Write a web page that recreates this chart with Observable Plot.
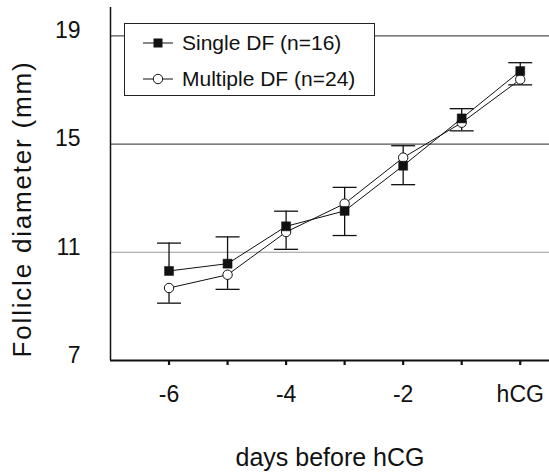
<!DOCTYPE html>
<html>
<head>
<meta charset="utf-8">
<script src="https://cdn.jsdelivr.net/npm/d3@7"></script>
<script src="https://cdn.jsdelivr.net/npm/@observablehq/plot@0.6"></script>
<style>
  body { margin: 0; background: #fff; }
  #wrap { position: relative; width: 549px; height: 473px; font-family: "Liberation Sans", Arial, sans-serif; }
  #legend { position: absolute; left: 124px; top: 23px; width: 249px; height: 71px; background: #fff; border: 1px solid #222; }
  .row { position: absolute; left: 0; height: 30px; display: flex; align-items: center; font-size: 21px; color: #111; }
  .row svg { margin-left: 18px; margin-right: 9px; }
  .ytitle text { letter-spacing: 1.8px; }
</style>
</head>
<body>
<div id="wrap"></div>
<script>
// ---- data ----
const days = [-6, -5, -4, -3, -2, -1, 0];
const singleMean   = [10.31, 10.58, 11.96, 12.53, 14.20, 15.95, 17.70];
const multipleMean = [9.68, 10.17, 11.75, 12.80, 14.50, 15.79, 17.39];
const errUpper     = [11.34, 11.57, 12.52, 13.40, 14.94, 16.31, 18.01];
const errLower     = [9.12, 9.63, 11.11, 11.62, 13.50, 15.49, 17.19];
const seriesNames  = ["Single DF (n=16)", "Multiple DF (n=24)"];
const xTickValues  = [-6, -5, -4, -3, -2, -1, 0];
const xTickLabels  = ["-6", "", "-4", "", "-2", "", "hCG"];
const yTickValues  = [7, 11, 15, 19];
const gridValues   = [11, 15, 19];
const xTitle = "days before hCG";
const yTitle = "Follicle diameter (mm)";
const xDomain = [-7, 0.5];
const yDomain = [7, 20.05];

const single = days.map((d, i) => ({day: d, value: singleMean[i]}));
const multiple = days.map((d, i) => ({day: d, value: multipleMean[i]}));
const bars = days.map((d, i) => ({
  day: d,
  hi: Math.max(singleMean[i], multipleMean[i]),
  lo: Math.min(singleMean[i], multipleMean[i]),
  up: errUpper[i],
  down: errLower[i]
}));

const capSymbol = { draw(ctx) { ctx.moveTo(-12, 0); ctx.lineTo(12, 0); } };
const squareSymbol = { draw(ctx) { ctx.rect(-4.5, -4.5, 9, 9); } };

const chart = Plot.plot({
  width: 549,
  height: 473,
  marginLeft: 110,
  marginRight: 0,
  marginTop: 7,
  marginBottom: 113,
  style: { fontFamily: "Liberation Sans, Arial, sans-serif", background: "#fff", color: "#111", fontSize: "23px" },
  x: { domain: xDomain },
  y: { domain: yDomain },
  marks: [
    Plot.ruleY(gridValues, { stroke: d => d === 11 ? "#999" : "#555", strokeWidth: 1.1 }),
    Plot.axisY({ ticks: yTickValues, tickSize: 0, tickPadding: 30, label: null, dy: -5 }),
    Plot.axisX({ ticks: xTickValues, tickSize: 5, tickPadding: 20, strokeWidth: 2.2,
      tickFormat: d => xTickLabels[xTickValues.indexOf(d)], label: null }),
    Plot.text([xTitle], { text: d => d, frameAnchor: "bottom", lineAnchor: "middle", textAnchor: "middle", dy: 97, fontSize: 25, fill: "#111" }),
    Plot.text([yTitle], { text: d => d, frameAnchor: "left", lineAnchor: "middle", textAnchor: "middle", rotate: -90, dx: -88, dy: 25, fontSize: 26, fill: "#111", className: "ytitle" }),
    Plot.ruleX([xDomain[0]], { stroke: "#111", strokeWidth: 1.5 }),
    Plot.ruleY([yDomain[0]], { stroke: "#111", strokeWidth: 2 }),
    // error bars
    Plot.ruleX(bars, { x: "day", y1: "hi", y2: "up", stroke: "#111", strokeWidth: 1.3 }),
    Plot.ruleX(bars, { x: "day", y1: "lo", y2: "down", stroke: "#111", strokeWidth: 1.3 }),
    Plot.dot(bars, { x: "day", y: "up", symbol: capSymbol, stroke: "#111", strokeWidth: 1.3, fill: "none" }),
    Plot.dot(bars, { x: "day", y: "down", symbol: capSymbol, stroke: "#111", strokeWidth: 1.3, fill: "none" }),
    // multiple DF
    Plot.line(multiple, { x: "day", y: "value", stroke: "#111", strokeWidth: 1 }),
    Plot.dot(multiple, { x: "day", y: "value", r: 4.7, fill: "#fff", stroke: "#111", strokeWidth: 1 }),
    // single DF
    Plot.line(single, { x: "day", y: "value", stroke: "#111", strokeWidth: 1 }),
    Plot.dot(single, { x: "day", y: "value", symbol: squareSymbol, fill: "#111", stroke: "#111", strokeWidth: 0.5 })
  ]
});

const wrap = document.getElementById("wrap");
wrap.appendChild(chart);

const legend = document.createElement("div");
legend.id = "legend";
const swatches = [
  '<svg width="30" height="12"><line x1="0" y1="6" x2="30" y2="6" stroke="#111" stroke-width="1"/><rect x="10.5" y="1.5" width="9" height="9" fill="#111"/></svg>',
  '<svg width="30" height="12"><line x1="0" y1="6" x2="30" y2="6" stroke="#111" stroke-width="1"/><circle cx="15" cy="6" r="4.7" fill="#fff" stroke="#111"/></svg>'
];
seriesNames.forEach((name, i) => {
  const row = document.createElement("div");
  row.className = "row";
  row.style.top = (4 + i * 36) + "px";
  row.innerHTML = swatches[i] + "<span>" + name + "</span>";
  legend.appendChild(row);
});
wrap.appendChild(legend);
</script>
</body>
</html>
